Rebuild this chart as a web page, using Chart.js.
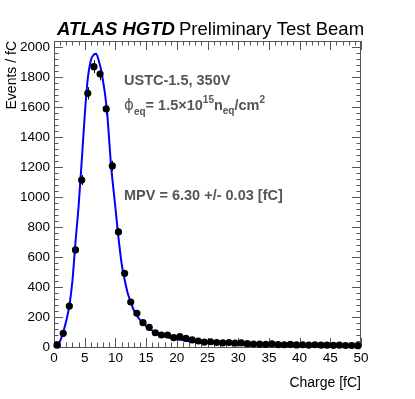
<!DOCTYPE html>
<html>
<head>
<meta charset="utf-8">
<script src="https://cdn.jsdelivr.net/npm/chart.js@4/dist/chart.umd.min.js"></script>
<style>
  html, body { margin: 0; padding: 0; background: #fff; }
  #wrap { width: 415px; height: 399px; }
</style>
</head>
<body>
<div id="wrap"><canvas id="chart" width="415" height="399"></canvas></div>
<script>
// histogram bins (1 fC wide)
const binCenters = [0.5, 1.5, 2.5, 3.5, 4.5, 5.5, 6.5, 7.5, 8.5, 9.5,
    10.5, 11.5, 12.5, 13.5, 14.5, 15.5, 16.5, 17.5, 18.5, 19.5,
    20.5, 21.5, 22.5, 23.5, 24.5, 25.5, 26.5, 27.5, 28.5, 29.5,
    30.5, 31.5, 32.5, 33.5, 34.5, 35.5, 36.5, 37.5, 38.5, 39.5,
    40.5, 41.5, 42.5, 43.5, 44.5, 45.5, 46.5, 47.5, 48.5, 49.5];
const counts = [12, 91, 273, 647, 1113, 1691, 1869, 1820, 1587, 1207,
    767, 491, 300, 225, 162, 131, 95, 80, 80, 62,
    69, 58, 47, 40, 33, 35, 30, 28, 30, 26,
    27, 22, 20, 19, 17, 21, 16, 15, 17, 14,
    15, 13, 15, 12, 12, 11, 12, 10, 10, 9];

// fitted curve, sampled by eye along the blue line
const fitX = [0, 0.5, 1, 1.5, 2, 2.5, 3, 3.5, 4, 4.5, 5, 5.5, 6, 6.5, 6.85, 7.25, 7.8, 8.6, 9.3, 10,
    10.4, 11, 11.5, 12, 12.5, 13, 14, 15, 16, 17, 18, 19, 20, 22, 25, 30, 35, 40, 45, 50];
const fitY = [0, 12, 40, 100, 175, 275, 440, 700, 935, 1230, 1540, 1790, 1910, 1950, 1955, 1915, 1820, 1587, 1207, 930,
    767, 560, 450, 360, 300, 245, 180, 140, 110, 88, 72, 60, 52, 38, 26, 17, 12, 10, 8, 7];

const xTicks = [0, 5, 10, 15, 20, 25, 30, 35, 40, 45, 50];
const yTicks = [0, 200, 400, 600, 800, 1000, 1200, 1400, 1600, 1800, 2000];
const xMinorStep = 1;
const yMinorStep = 40;

const FONT = "'Liberation Sans', Arial, Helvetica, sans-serif";
const FRAME = '#555';

const bgPlugin = {
    id: 'bg',
    beforeDraw(chart) {
        const ctx = chart.ctx;
        ctx.save();
        ctx.fillStyle = '#fff';
        ctx.fillRect(0, 0, chart.width, chart.height);
        ctx.restore();
    }
};

// ROOT-like frame with inward ticks on all four sides
const framePlugin = {
    id: 'frame',
    beforeDatasetsDraw(chart) {
        const { ctx, chartArea: a, scales: { x, y } } = chart;
        ctx.save();
        ctx.strokeStyle = FRAME;
        ctx.lineWidth = 1;
        ctx.strokeRect(a.left + 0.5, a.top + 0.5, a.right - a.left - 1, a.bottom - a.top);

        ctx.beginPath();
        for (let v = x.min; v <= x.max + 1e-9; v += xMinorStep) {
            const px = Math.round(x.getPixelForValue(v)) + 0.5;
            const len = xTicks.includes(v) ? 9 : 4.5;
            ctx.moveTo(px, a.bottom); ctx.lineTo(px, a.bottom - len);
            ctx.moveTo(px, a.top); ctx.lineTo(px, a.top + len);
        }
        for (let v = 0; v <= y.max + 1e-9; v += yMinorStep) {
            const py = Math.round(y.getPixelForValue(v)) + 0.5;
            const len = yTicks.includes(v) ? 9 : 4.5;
            ctx.moveTo(a.left, py); ctx.lineTo(a.left + len, py);
            ctx.moveTo(a.right, py); ctx.lineTo(a.right - len, py);
        }
        ctx.stroke();

        // poisson error bars under the markers
        ctx.strokeStyle = '#000';
        ctx.beginPath();
        binCenters.forEach((c, i) => {
            const e = Math.sqrt(counts[i]);
            const px = Math.round(x.getPixelForValue(c)) + 0.5;
            ctx.moveTo(px, y.getPixelForValue(counts[i] - e));
            ctx.lineTo(px, y.getPixelForValue(counts[i] + e));
        });
        ctx.stroke();
        ctx.restore();
    }
};

function drawRun(ctx, parts, x0, baseline) {
    let x = x0;
    parts.forEach(p => {
        ctx.font = p.font;
        ctx.fillText(p.t, x, baseline + (p.dy || 0));
        x += ctx.measureText(p.t).width;
    });
}

const textPlugin = {
    id: 'labels',
    afterDraw(chart) {
        const { ctx, chartArea: a } = chart;
        ctx.save();
        ctx.fillStyle = '#000';
        ctx.textBaseline = 'alphabetic';
        ctx.textAlign = 'left';
        drawRun(ctx, [{ t: 'ATLAS HGTD', font: `italic bold 18.5px ${FONT}` }], 57, 35);
        drawRun(ctx, [{ t: 'Preliminary Test Beam', font: `18.5px ${FONT}` }], 179, 35);

        // axis titles
        ctx.font = `14px ${FONT}`;
        ctx.textAlign = 'right';
        ctx.fillText('Charge [fC]', a.right, 387);
        ctx.save();
        ctx.translate(16, a.top);
        ctx.rotate(-Math.PI / 2);
        ctx.fillText('Events / fC', 0, 0);
        ctx.restore();

        // annotations
        ctx.textAlign = 'left';
        ctx.fillStyle = '#555';
        const b = `bold 14.5px ${FONT}`;
        const s = `bold 10px ${FONT}`;
        drawRun(ctx, [{ t: 'USTC-1.5, 350V', font: b }], 124, 85);
        drawRun(ctx, [
            { t: 'ϕ', font: `15px 'DejaVu Sans', ${FONT}` },
            { t: 'eq', font: s, dy: 5 },
            { t: '= 1.5×10', font: b },
            { t: '15', font: s, dy: -7 },
            { t: 'n', font: b },
            { t: 'eq', font: s, dy: 4 },
            { t: '/cm', font: b },
            { t: '2', font: s, dy: -7 }
        ], 124, 110);
        drawRun(ctx, [{ t: 'MPV = 6.30 +/- 0.03 [fC]', font: b }], 124, 200);
        ctx.restore();
    }
};

new Chart(document.getElementById('chart'), {
    type: 'scatter',
    data: {
        datasets: [
            {
                label: 'fit',
                data: fitX.map((v, i) => ({ x: v, y: fitY[i] })),
                showLine: true,
                borderColor: '#0000ff',
                borderWidth: 2,
                pointRadius: 0,
                cubicInterpolationMode: 'monotone',
                clip: false,
                order: 2
            },
            {
                label: 'data',
                data: binCenters.map((v, i) => ({ x: v, y: counts[i] })),
                backgroundColor: '#000',
                borderWidth: 0,
                pointRadius: 3.6,
                clip: false,
                order: 1
            }
        ]
    },
    options: {
        responsive: false,
        animation: false,
        layout: { padding: { left: 0, top: 41, right: 54, bottom: 0 } },
        plugins: { legend: { display: false }, tooltip: { enabled: false } },
        scales: {
            x: {
                type: 'linear',
                min: 0,
                max: 50,
                grid: { display: false, drawTicks: false },
                border: { display: false },
                afterBuildTicks: s => { s.ticks = xTicks.map(v => ({ value: v })); },
                afterFit: s => { s.height = 52; },
                ticks: { color: '#000', padding: 3, maxRotation: 0, callback: v => String(v), font: { family: FONT, size: 13.5 } }
            },
            y: {
                type: 'linear',
                min: 0,
                max: 2040,
                grid: { display: false, drawTicks: false },
                border: { display: false },
                afterBuildTicks: s => { s.ticks = yTicks.map(v => ({ value: v })); },
                afterFit: s => { s.width = 54; },
                ticks: { color: '#000', padding: 4, callback: v => String(v), font: { family: FONT, size: 13.5 } }
            }
        }
    },
    plugins: [bgPlugin, framePlugin, textPlugin]
});
</script>
</body>
</html>
